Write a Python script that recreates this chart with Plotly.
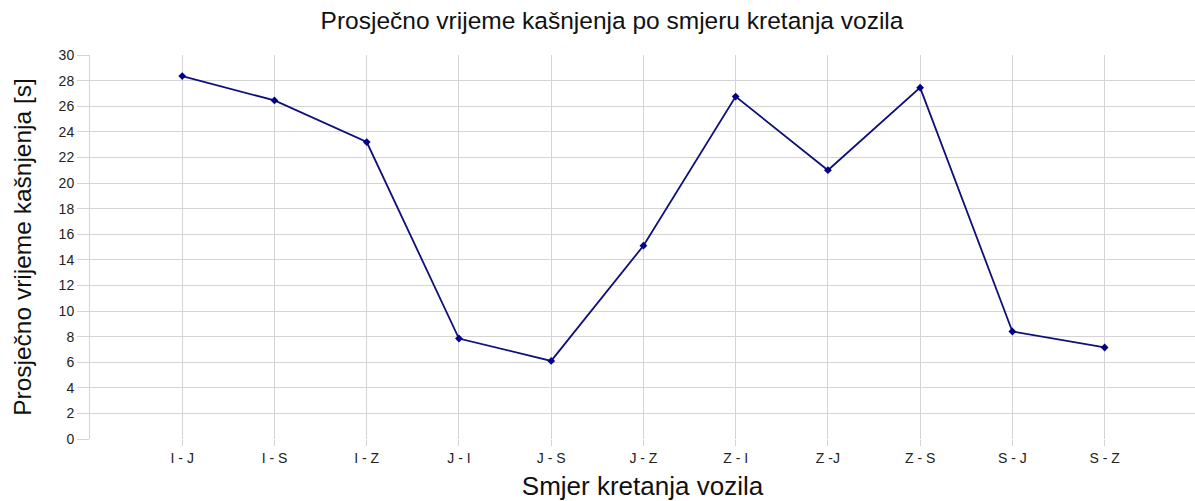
import plotly.graph_objects as go

# Average delay per direction of vehicle movement
directions = ["I - J", "I - S", "I - Z", "J - I", "J - S", "J - Z",
              "Z - I", "Z -J", "Z - S", "S - J", "S - Z"]
avg_delay_s = [28.35, 26.45, 23.2, 7.85, 6.1, 15.1,
               26.75, 21.0, 27.45, 8.4, 7.15]
y_ticks = list(range(0, 31, 2))

FONT = "Liberation Sans, Arial, sans-serif"
GRID = "#d4d4d4"

fig = go.Figure()
fig.add_trace(go.Scatter(
    x=directions,
    y=avg_delay_s,
    mode="lines+markers",
    line=dict(color="#10107a", width=1.8),
    marker=dict(symbol="diamond", size=6, color="#00008b"),
    showlegend=False,
))

fig.update_layout(
    width=1195,
    height=501,
    margin=dict(l=90, r=0, t=55, b=62),
    paper_bgcolor="white",
    plot_bgcolor="white",
    font=dict(family=FONT, color="#111"),
    title=dict(
        text="Prosječno vrijeme kašnjenja po smjeru kretanja vozila",
        x=612 / 1195, xanchor="center", xref="container",
        y=0.96, yanchor="middle",
        font=dict(size=24.5, family=FONT, color="#111"),
    ),
)

fig.update_xaxes(
    type="category",
    range=[-1, 10.98],
    showgrid=True, gridcolor=GRID, gridwidth=1,
    ticks="outside", ticklen=6, tickcolor=GRID,
    tickfont=dict(size=14, family=FONT, color="#222"),
    showline=False, zeroline=False,
    title=dict(text="Smjer kretanja vozila",
               font=dict(size=26, family=FONT, color="#111"),
               standoff=14),
)
fig.update_yaxes(
    range=[0, 30],
    tickvals=y_ticks,
    showgrid=True, gridcolor=GRID, gridwidth=1,
    ticks="outside", ticklen=12, tickcolor=GRID,
    tickfont=dict(size=14, family=FONT, color="#222"),
    showline=True, linecolor=GRID, linewidth=1,
    zeroline=False,
    title=dict(text="Prosječno vrijeme kašnjenja [s]",
               font=dict(size=24.5, family=FONT, color="#111"),
               standoff=20),
)

fig.write_html("out.html")
